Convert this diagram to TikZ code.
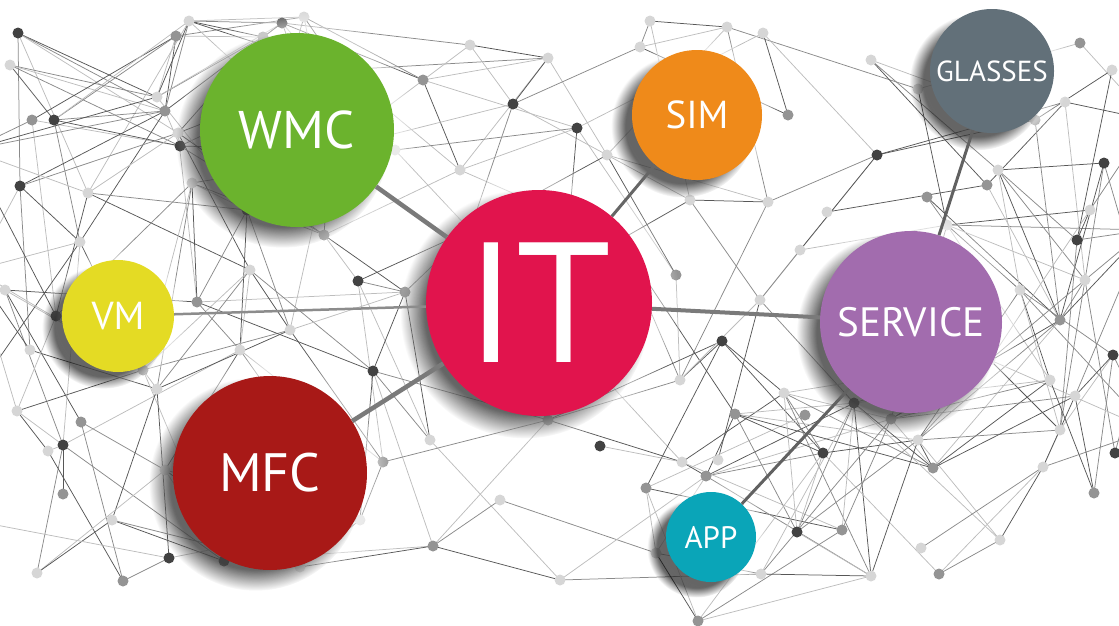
\documentclass[tikz,border=0pt]{standalone}
\usepackage{fontspec}
\setmainfont{PT Sans}
\usetikzlibrary{shadows, fadings}

\definecolor{itred}{HTML}{E1144D}
\definecolor{wmcgreen}{HTML}{6BB32D}
\definecolor{simorange}{HTML}{EF8A1A}
\definecolor{glassgray}{HTML}{627079}
\definecolor{servpurple}{HTML}{A26CAE}
\definecolor{vmyellow}{HTML}{E4DB24}
\definecolor{mfcred}{HTML}{A81917}
\definecolor{appteal}{HTML}{0AA5B8}
\colorlet{dotd}{black!74}
\colorlet{dotm}{black!42}
\colorlet{dotl}{black!16}
\colorlet{mesh0}{black!66}
\colorlet{mesh1}{black!46}
\colorlet{mesh2}{black!26}

\newcommand{\bubblefont}[1]{\fontsize{#1}{#1}\selectfont}

% points of the background mesh: x/y/shade
\newcommand{\netpoints}{18/33/d, 10/65/l, 176/36/m, 189/21/l, 263/37/m, 282/23/d,
  304/17/l, 340/70/l, 423/80/m, 470/45/l, 548/58/l, 640/47/l, 650/21/l, 727/27/l,
  763/33/l, 871/60/l, 918/89/l, 1080/43/m, 1065/102/l, 1112/70/l,
  32/120/m, 54/120/d, 157/97/l, 165/111/m, 178/133/l, 180/146/d, 20/186/d, 88/193/l,
  192/183/l, 247/210/d, 330/150/l, 395/150/l, 460/170/l, 513/104/d, 577/128/d,
  607/155/l, 690/200/l, 768/202/l, 788/115/m, 827/212/l, 877/155/d, 927/197/m,
  947/225/l, 987/185/m, 998/170/l, 1035/120/m, 1090/210/l, 1104/163/d, 1077/240/d,
  5/290/l, 80/242/l, 30/350/l, 56/316/d, 143/370/m, 197/302/m, 250/270/l, 240/350/l,
  290/330/l, 324/235/m, 358/281/d, 405/292/m, 373/371/d, 470/230/l, 560/330/l,
  620/240/l, 676/275/m, 722/341/d, 680/380/l, 760/300/l, 800/250/l, 1020/290/l,
  1060/320/m, 1085/280/l, 1113/355/d, 990/360/l, 1050/380/l, 430/440/l,
  17/411/l, 81/422/m, 63/445/d, 48/451/l, 63/494/m, 157/389/l, 165/470/l, 112/520/l,
  37/573/l, 123/581/m, 169/558/d, 224/561/d, 300/567/l, 360/520/l, 383/462/m,
  433/546/m, 500/500/l, 548/420/m, 560/580/l, 600/446/d, 646/488/m, 656/553/l,
  682/462/l, 706/476/m, 718/460/l, 735/414/m, 784/393/l, 805/415/m, 854/403/d,
  823/453/d, 891/419/m, 918/440/l, 933/468/m, 797/532/d, 842/530/m, 921/548/l,
  939/574/m, 761/574/l, 871/576/l, 698/621/m, 1000/540/l, 1043/467/l, 1060/430/l,
  1075/396/l, 1094/493/m, 1115/453/d,
  -30/150/l, -25/270/m, -30/400/l, -30/520/l, 1150/120/l, 1145/230/m, 1150/320/l,
  1150/430/m, 1150/530/l}

\begin{document}
\begin{tikzpicture}[x=1pt, y=-1pt]
    \tikzstyle{bubble}=[circle, inner sep=0pt, text=white,
                        circular glow={fill=white, opacity=.5, shadow scale=1.25},
                        circular drop shadow={fill=black, opacity=.6, shadow scale=1.1,
                                              shadow xshift=-13pt, shadow yshift=-10pt,
                                              path fading=circle with fuzzy edge 20 percent}]
    \tikzstyle{link}=[-, line width=4.5pt, black!52]

    \useasboundingbox (0,0) rectangle (1119,625);
    \clip (0,0) rectangle (1119,625);

    % background mesh
    \pgfmathsetseed{17}
    \foreach \x/\y/\s [count=\i] in \netpoints
        \coordinate (p\i) at (\x,\y);
    \foreach \xa/\ya/\sa [count=\i] in \netpoints {
      \foreach \xb/\yb/\sb [count=\j] in \netpoints {
        \ifnum\j>\i
          \pgfmathsetmacro\dd{veclen((\xb)-(\xa),(\yb)-(\ya))}
          \ifdim\dd pt<210pt
            \pgfmathsetmacro\rr{rnd}
            \ifdim\rr pt<0.29pt
              \pgfmathtruncatemacro\tone{mod(\i+\j,3)}
              \draw[line width=.75pt, mesh\tone] (p\i) -- (p\j);
            \fi
          \fi
        \fi
      }
    }
    \foreach \x/\y/\s [count=\i] in \netpoints
        \fill[dot\s] (p\i) circle (5.5pt);

    % topics
    \node[bubble, fill=itred, minimum size=226pt, font=\bubblefont{171}]      (it)      at (539,303) {IT};
    \node[bubble, fill=wmcgreen, minimum size=194pt, font=\bubblefont{53}]    (wmc)     at (297,130) {WMC};
    \node[bubble, fill=simorange, minimum size=130pt, font=\bubblefont{39}]   (sim)     at (697,115) {SIM};
    \node[bubble, fill=glassgray, minimum size=124pt, font=\bubblefont{29}]   (glasses) at (992,71)  {GLASSES};
    \node[bubble, fill=servpurple, minimum size=182pt, font=\bubblefont{41}]  (service) at (911,322) {SERVICE};
    \node[bubble, fill=vmyellow, minimum size=112pt, font=\bubblefont{39}]    (vm)      at (118,316) {VM};
    \node[bubble, fill=mfcred, minimum size=194pt, font=\bubblefont{54}]      (mfc)     at (270,473) {MFC};
    \node[bubble, fill=appteal, minimum size=90pt, font=\bubblefont{31}]      (app)     at (711,537) {APP};

    \path (it) edge[link]                               (wmc)
               edge[link, line width=3pt, black!60]     (sim)
               edge[link, line width=2.5pt, black!45]   (vm)
               edge[link]                               (mfc)
               edge[link, line width=4pt]               (service)
          (service) edge[link, line width=3pt, black!62] (glasses)
               edge[link, line width=3pt, black!62]     (app);
\end{tikzpicture}
\end{document}
